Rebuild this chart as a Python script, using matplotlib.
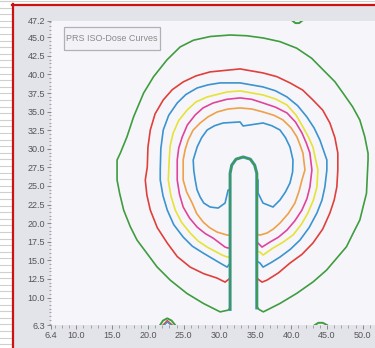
import numpy as np
import matplotlib.pyplot as plt
from matplotlib.patches import Rectangle

plt.rcParams['font.family'] = ['Liberation Sans', 'DejaVu Sans']

# needle outline (shared by all curves)
needle_x = [31.47, 31.47, 31.7, 32.3, 33.3, 34.3, 34.9, 35.2, 35.2]
needle_y = [8.4, 26.7, 27.8, 28.6, 28.9, 28.6, 27.8, 26.7, 8.6]

green_x = [31.47, 31.19, 30.08, 27.75, 25.44, 23.11, 21.26, 19.87, 18.48, 17.54, 16.61, 16.05, 15.69,
           15.69, 16.15, 17.07, 18.0, 19.4, 20.79, 22.65, 24.5, 26.36, 28.7, 31.47, 33.8, 36.1, 38.43,
           40.76, 42.85, 44.47, 46.09, 47.25, 48.56, 49.58, 50.27, 50.73, 50.73, 50.51, 50.04, 49.58,
           48.64, 47.72, 46.33, 44.94, 43.07, 40.76, 38.43, 36.11, 35.5, 35.2]
green_y = [8.6, 8.3, 8.07, 9.2, 10.55, 12.34, 14.13, 15.93, 17.72, 19.52, 21.76, 24.01, 25.8,
           28.49, 29.43, 31.6, 34.3, 37.5, 39.7, 41.95, 43.7, 44.6, 45.1, 45.3, 45.2, 44.9, 44.41,
           43.53, 42.18, 40.6, 39.03, 37.47, 35.67, 33.88, 31.63, 29.39, 28.49, 24.01, 22.2, 20.42,
           18.63, 16.83, 15.26, 13.69, 12.11, 10.55, 9.2, 8.07, 8.4, 8.8]

red_x = [31.47, 30.77, 29.66, 27.8, 25.90, 24.1, 22.70, 21.3, 20.33, 19.85, 19.63, 19.91, 20.0, 20.33,
         21.0, 22.14, 23.4, 24.92, 26.7, 28.68, 32.86, 36.07, 38.0, 39.83, 41.6, 43.03, 44.4, 45.40,
         46.1, 46.51, 46.51, 46.37, 46.0, 45.40, 44.4, 43.03, 41.5, 39.83, 38.2, 36.62, 35.93, 35.2]
red_y = [12.6, 12.07, 12.61, 13.2, 14.09, 15.5, 17.32, 19.4, 21.76, 23.8, 25.80, 27.55, 30.2, 32.53,
         34.7, 36.57, 37.95, 38.99, 39.8, 40.34, 40.74, 40.20, 39.7, 38.86, 37.9, 36.57, 35.2, 33.47,
         31.5, 29.43, 27.15, 24.86, 23.1, 21.36, 19.2, 17.32, 15.8, 14.63, 13.3, 12.34, 12.07, 12.6]

blue_x = [31.47, 31.05, 30.08, 27.71, 26.2, 24.92, 23.6, 22.70, 22.1, 21.72, 21.72, 21.8, 22.14, 22.9,
          24.09, 25.3, 26.87, 28.4, 30.08, 32.86, 36.07, 37.8, 39.41, 40.9, 42.19, 43.2, 44.01, 44.98,
          44.98, 44.70, 44.3, 43.59, 42.5, 41.22, 39.9, 38.43, 37.2, 36.07, 35.65, 35.2]
blue_y = [14.6, 14.09, 14.63, 15.98, 16.9, 18.13, 19.8, 21.76, 23.7, 25.80, 27.15, 30.0, 32.53, 34.5,
          36.16, 37.3, 38.18, 38.6, 38.86, 38.86, 38.32, 37.8, 36.97, 35.8, 34.28, 32.8, 31.18, 28.49,
          27.15, 24.86, 23.1, 21.36, 19.4, 17.72, 16.5, 15.44, 14.7, 14.09, 14.63, 14.9]

yellow_x = [31.47, 31.05, 30.36, 28.27, 27.0, 25.90, 24.7, 23.81, 23.2, 22.84, 22.97, 23.1, 23.53, 24.3,
            25.48, 26.7, 28.27, 31.05, 32.86, 36.07, 37.8, 39.41, 40.7, 41.64, 42.4, 43.03, 43.73,
            43.59, 43.1, 42.33, 41.4, 40.25, 38.8, 37.46, 36.07, 35.65, 35.2]
yellow_y = [15.5, 15.44, 15.71, 16.78, 17.6, 18.67, 20.1, 21.76, 23.7, 25.80, 28.49, 30.4, 32.13, 33.8,
            35.22, 36.3, 36.97, 37.64, 37.78, 37.24, 36.7, 35.89, 34.5, 32.93, 31.6, 30.24, 27.15,
            24.86, 23.1, 21.36, 19.8, 18.40, 17.4, 16.65, 15.71, 16.11, 16.2]

magenta_x = [31.47, 31.19, 30.77, 29.10, 28.0, 26.87, 25.8, 24.92, 24.4, 24.09, 24.09, 24.3, 24.79,
             25.5, 26.60, 27.7, 29.10, 31.0, 32.86, 34.5, 36.07, 37.8, 39.41, 40.6, 41.50, 42.1, 42.61,
             42.89, 42.61, 42.2, 41.50, 40.5, 39.41, 38.2, 37.04, 35.93, 35.37, 35.2]
magenta_y = [16.7, 16.65, 16.78, 17.99, 18.6, 19.47, 20.7, 22.17, 23.9, 25.80, 28.49, 30.1, 31.59,
             33.2, 34.55, 35.5, 36.16, 36.65, 36.84, 36.65, 36.16, 35.6, 34.82, 33.6, 32.13, 30.8, 29.43,
             27.15, 24.86, 23.3, 21.76, 20.3, 19.07, 18.1, 17.46, 16.78, 17.32, 17.4]

orange_x = [31.47, 31.05, 29.66, 28.6, 27.71, 26.8, 26.18, 25.4, 24.92, 24.92, 25.2, 25.62, 26.3, 27.29,
            28.4, 29.66, 31.2, 32.86, 34.5, 36.07, 37.6, 38.85, 40.0, 40.80, 41.2, 41.64, 41.92, 41.50,
            41.1, 40.52, 39.6, 38.43, 37.5, 36.62, 35.65, 35.2]
orange_y = [18.4, 18.40, 18.80, 19.4, 20.15, 21.3, 22.70, 24.2, 25.80, 28.49, 29.9, 31.18, 32.5, 33.47,
            34.3, 34.95, 35.35, 35.49, 35.35, 34.95, 34.5, 33.88, 32.8, 31.59, 30.6, 29.43, 27.15, 25.80,
            24.3, 22.70, 21.3, 20.01, 19.2, 18.67, 18.40, 18.5]

inner_x = [31.47, 31.19, 30.77, 29.80, 28.68, 27.8, 27.29, 26.85, 26.60, 26.4, 26.32, 26.87, 27.5,
           28.27, 29.3, 30.50, 32.86, 33.28, 34.2, 36.07, 37.3, 38.43, 39.2, 39.83, 40.25, 40.2, 39.83,
           39.2, 38.43, 37.46, 36.07, 35.37, 35.37, 35.2]
inner_y = [24.5, 24.45, 22.70, 22.03, 22.17, 22.7, 23.51, 24.5, 25.80, 27.1, 28.49, 30.24, 31.5,
           32.53, 33.1, 33.47, 33.61, 33.07, 33.2, 33.47, 33.1, 32.53, 31.5, 30.24, 28.49, 26.9, 25.40,
           24.2, 23.11, 22.17, 22.70, 24.05, 25.80, 26.0]

# small islands at the plot edges
isl1_x = [21.7, 22.1, 22.7, 23.3, 23.8]
isl1_y = [6.3, 6.9, 7.2, 6.9, 6.3]
isl1b_x = [22.1, 22.7, 23.4]
isl1b_y = [6.3, 6.9, 6.3]
isl1c_x = [22.3, 22.7, 23.2]
isl1c_y = [6.3, 6.7, 6.3]
isl2_x = [43.3, 43.8, 44.4, 45.0]
isl2_y = [6.3, 6.6, 6.6, 6.3]
isl3_x = [40.2, 40.6, 41.1, 41.5]
isl3_y = [47.2, 46.9, 46.9, 47.2]

yticks = [6.3, 10.0, 12.5, 15.0, 17.5, 20.0, 22.5, 25.0, 27.5, 30.0, 32.5, 35.0, 37.5, 40.0, 42.5, 45.0, 47.2]
xticks = [6.4, 10.0, 15.0, 20.0, 25.0, 30.0, 35.0, 40.0, 45.0, 50.0]

fig = plt.figure(figsize=(3.75, 3.48), dpi=100)
fig.patch.set_facecolor('white')

# page background: ruled lines, red frame, grey panel
bg = fig.add_axes([0, 0, 1, 1], zorder=-10)
bg.set_xlim(0, 375)
bg.set_ylim(348, 0)
bg.axis('off')
for yy in np.arange(1, 348, 6.6):
    bg.plot([0, 12], [yy, yy], color='#cfcfcf', lw=0.8)
bg.plot([0, 375], [1, 1], color='#cfcfcf', lw=0.8)
bg.add_patch(Rectangle((13, 5), 362, 343, facecolor='#e3e3ea', edgecolor='none'))
bg.plot([13, 13], [4, 348], color='#cc1111', lw=1.6)
bg.plot([12, 375], [5, 5], color='#cc1111', lw=1.6)

ax = fig.add_axes([0.1347, 0.066, 0.8653, 0.874])
ax.set_facecolor('#f6f6fa')

lw = 1.2
kw = dict(lw=lw, solid_joinstyle='round', solid_capstyle='round')
ax.plot(green_x, green_y, color='#3f9c3f', **kw)
ax.plot(red_x, red_y, color='#e0403c', **kw)
ax.plot(blue_x, blue_y, color='#3b93cf', **kw)
ax.plot(yellow_x, yellow_y, color='#e6e236', **kw)
ax.plot(magenta_x, magenta_y, color='#e0449a', **kw)
ax.plot(orange_x, orange_y, color='#eea04a', **kw)
ax.plot(inner_x, inner_y, color='#3b93cf', **kw)
ax.plot(needle_x, needle_y, color='#3b93cf', lw=2.2)
ax.plot(needle_x, needle_y, color='#3f9c3f', lw=1.3)

ax.plot(isl1_x, isl1_y, color='#3f9c3f', lw=1.4)
ax.plot(isl1b_x, isl1b_y, color='#e0403c', lw=1.0)
ax.plot(isl1c_x, isl1c_y, color='#3b93cf', lw=1.0)
ax.plot(isl2_x, isl2_y, color='#3f9c3f', lw=1.4)
ax.plot(isl3_x, isl3_y, color='#3f9c3f', lw=1.4)

ax.set_xlim(6.4, 51.7)
ax.set_ylim(6.3, 47.2)
ax.set_xticks(xticks)
ax.set_xticklabels(['%.1f' % v for v in xticks])
ax.set_yticks(yticks)
ax.set_yticklabels(['%.1f' % v for v in yticks])
ax.set_xticks(np.arange(7, 52, 1.0), minor=True)
ax.set_yticks(np.arange(6.5, 47.2, 0.5), minor=True)
ax.tick_params(axis='both', which='major', labelsize=6.5, colors='#777777', labelcolor='#555555',
               length=3, width=0.6, pad=1)
ax.tick_params(axis='both', which='minor', colors='#888888', length=1.8, width=0.5)
for s in ax.spines.values():
    s.set_visible(False)

ax.add_patch(Rectangle((0.043, 0.905), 0.293, 0.076, transform=ax.transAxes,
                       facecolor='#f3f3f7', edgecolor='#b0b0b8', lw=0.9))
ax.text(0.19, 0.943, 'PRS ISO-Dose Curves', transform=ax.transAxes, fontsize=6.5,
        color='#8a8a8a', ha='center', va='center')

fig.savefig('out.png', dpi=100)
